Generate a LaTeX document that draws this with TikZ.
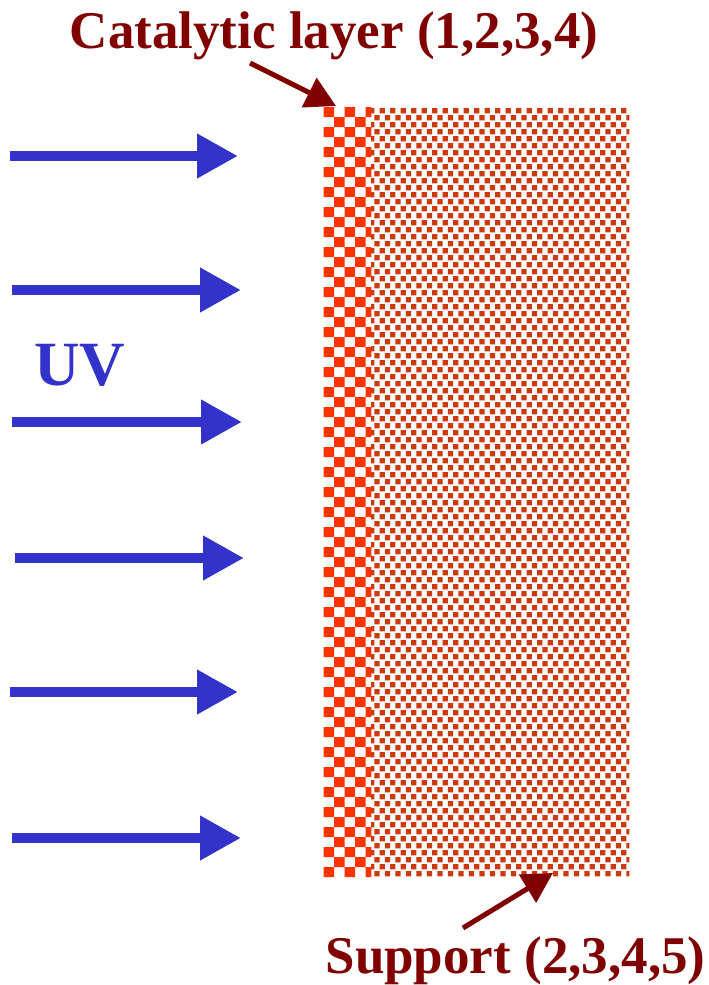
\documentclass[tikz,border=0pt]{standalone}
\usepackage{fontspec}
\setmainfont{Liberation Serif}
\usetikzlibrary{arrows.meta}
\definecolor{uvblue}{RGB}{51,51,204}
\definecolor{labred}{RGB}{128,0,0}
\definecolor{checkred}{RGB}{255,51,0}
\definecolor{dotred}{RGB}{204,58,12}
\tikzset{
  uvarrow/.style={uvblue, line width=10.5pt, -{Triangle[length=41pt,width=42pt]}},
  labarrow/.style={labred, line width=5pt, -{Triangle[length=30pt,width=32pt]}},
  labtext/.style={labred, font=\bfseries\fontsize{53}{60}\selectfont, inner sep=0pt, anchor=base},
  layerbox/.style={draw=none, inner sep=0pt, anchor=north west, minimum height=770pt}
}
\begin{document}
\begin{tikzpicture}[x=1pt,y=-1pt]
\useasboundingbox (0,0) rectangle (709,985);
% layers
\node[layerbox, minimum width=47.5pt] (cat) at (323.5,107) {};
\node[layerbox, minimum width=258pt] (sup) at (371,107) {};
% checker pattern of the catalytic layer
\begin{scope}
  \clip (cat.north west) rectangle (cat.south east);
  \fill[checkred]
    \foreach \r [evaluate=\r as \s using {int(mod(\r,2))}] in {0,...,76} {
      \foreach \k in {0,1,2} {
        ({323.5+10.5*(\s+2*\k)}, {107+10*\r}) rectangle ++(10.5,10)
      }
    };
\end{scope}
% dotted support
\begin{scope}
  \clip (sup.north west) rectangle (sup.south east);
  \fill[dotred]
    \foreach \r [evaluate=\r as \o using {5.25*mod(\r,2)}] in {0,...,110} {
      \foreach \c in {0,...,25} {
        ({369+10.5*\c+\o}, {108+7*\r}) rectangle ++(5.4,5.4)
      }
    };
\end{scope}
% labels
\node[labtext] (catlab) at (334,48) {Catalytic layer (1,2,3,4)};
\node[labtext] (suplab) at (515.5,973) {Support (2,3,4,5)};
\node[uvblue, font=\bfseries\fontsize{63}{70}\selectfont, inner sep=0pt, anchor=base] (uv) at (80,385) {UV};
% label arrows
\coordinate (cs) at (250,63);
\coordinate (ct) at (336,106);
\coordinate (ss) at (463,928);
\coordinate (st) at (553,873);
\draw[labarrow] (cs) -- (ct);
\draw[labarrow] (ss) -- (st);
% UV arrows
\foreach \i/\xs/\xe/\y in {1/10/238/156, 2/12/241/290, 3/12/242/422, 4/15/244/558, 5/10/238/692, 6/12/241/838} {
  \coordinate (u\i s) at (\xs,\y);
  \coordinate (u\i e) at (\xe,\y);
  \draw[uvarrow] (u\i s) -- (u\i e);
}
\end{tikzpicture}
\end{document}
